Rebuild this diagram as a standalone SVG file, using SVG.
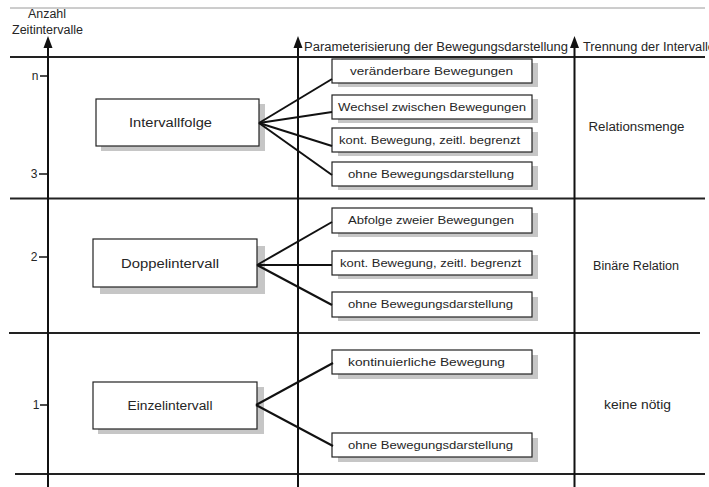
<svg xmlns="http://www.w3.org/2000/svg" width="709" height="487" viewBox="0 0 709 487">
<style>
text{font-family:"Liberation Sans",Arial,sans-serif;fill:#262626;}
.t{font-size:12px;text-anchor:middle;}
.s{font-size:11.5px;text-anchor:middle;}
.h{font-size:12px;}
.ax{stroke:#111;stroke-width:2;fill:none;}
.hl{stroke:#222;stroke-width:2;fill:none;}
.box{fill:#fff;stroke:#222;stroke-width:1.2;}
.shadow{fill:#c6c6c6;}
.con{stroke:#111;stroke-width:2;fill:none;}
.tick{stroke:#111;stroke-width:1.5;}
</style>
<rect width="709" height="487" fill="#fff"/>
<g id="grid">
<line x1="10" y1="8" x2="705" y2="8" stroke="#9a9a9a" stroke-width="1"/>
<line class="hl" x1="10" y1="57" x2="705" y2="57" stroke-width="1.6"/>
<line class="hl" x1="10" y1="198.5" x2="705" y2="198.5"/>
<line class="hl" x1="9" y1="333" x2="700" y2="333"/>
<line class="hl" x1="15" y1="474" x2="705" y2="474"/>
<line class="ax" x1="48" y1="487" x2="48" y2="48"/>
<path d="M48,36 L52.5,48 L43.5,48 z" fill="#111"/>
<line class="ax" x1="298" y1="487" x2="298" y2="48"/>
<path d="M298,36 L302.5,48 L293.5,48 z" fill="#111"/>
<line class="ax" x1="574.5" y1="487" x2="574.5" y2="48"/>
<path d="M574.5,36 L579,48 L570,48 z" fill="#111"/>
<line class="tick" x1="40" y1="76" x2="48" y2="76"/>
<line class="tick" x1="39" y1="174" x2="48" y2="174"/>
<line class="tick" x1="39" y1="257" x2="48" y2="257"/>
<line class="tick" x1="40" y1="405" x2="48" y2="405"/>
</g>
<g id="labels">
<text class="t" x="47" y="18" textLength="38" lengthAdjust="spacingAndGlyphs">Anzahl</text>
<text class="t" x="47.5" y="34" textLength="71" lengthAdjust="spacingAndGlyphs">Zeitintervalle</text>
<text class="h" x="304" y="51" textLength="264" lengthAdjust="spacingAndGlyphs">Parameterisierung der Bewegungsdarstellung</text>
<text class="h" x="583" y="51" textLength="132" lengthAdjust="spacingAndGlyphs">Trennung der Intervalle</text>
<text class="t" x="35" y="80">n</text>
<text class="t" x="34" y="178">3</text>
<text class="t" x="34" y="261">2</text>
<text class="t" x="36" y="409" font-size="10">1</text>
<text class="t" x="636.5" y="131" textLength="96" lengthAdjust="spacingAndGlyphs">Relationsmenge</text>
<text class="t" x="636" y="270" textLength="86" lengthAdjust="spacingAndGlyphs">Binäre Relation</text>
<text class="t" x="637.5" y="409" textLength="67" lengthAdjust="spacingAndGlyphs">keine nötig</text>
</g>
<g id="intervallfolge">
<rect class="shadow" x="101" y="104" width="164" height="47"/>
<rect class="box" x="96" y="99" width="163" height="47"/>
<text class="t" x="170.5" y="127" textLength="83" lengthAdjust="spacingAndGlyphs">Intervallfolge</text>
</g>
<g id="doppelintervall">
<rect class="shadow" x="100" y="246" width="165" height="48"/>
<rect class="box" x="93" y="239" width="164" height="48" stroke="#a8a8a8"/>
<text class="t" x="170" y="268" textLength="98" lengthAdjust="spacingAndGlyphs">Doppelintervall</text>
</g>
<g id="einzelintervall">
<rect class="shadow" x="98" y="387" width="166" height="47"/>
<rect class="box" x="93" y="382" width="164" height="47"/>
<text class="t" x="170" y="410" textLength="85" lengthAdjust="spacingAndGlyphs">Einzelintervall</text>
</g>
<g id="p1">
<rect class="shadow" x="338" y="63" width="200" height="24"/>
<rect class="box" x="332" y="59" width="200" height="24"/>
<text class="s" x="431.5" y="75" textLength="163" lengthAdjust="spacingAndGlyphs">veränderbare Bewegungen</text>
</g>
<g id="p2">
<rect class="shadow" x="338" y="99" width="200" height="24"/>
<rect class="box" x="332" y="95" width="200" height="24"/>
<text class="s" x="432" y="111" textLength="188" lengthAdjust="spacingAndGlyphs">Wechsel zwischen Bewegungen</text>
</g>
<g id="p3">
<rect class="shadow" x="338" y="132" width="200" height="24"/>
<rect class="box" x="332" y="128" width="200" height="24"/>
<text class="s" x="429.5" y="144" textLength="181" lengthAdjust="spacingAndGlyphs">kont. Bewegung, zeitl. begrenzt</text>
</g>
<g id="p4">
<rect class="shadow" x="338" y="166" width="200" height="24"/>
<rect class="box" x="332" y="162" width="200" height="24"/>
<text class="s" x="431" y="178" textLength="166" lengthAdjust="spacingAndGlyphs">ohne Bewegungsdarstellung</text>
</g>
<g id="d1">
<rect class="shadow" x="338" y="213" width="200" height="24"/>
<rect class="box" x="332" y="208" width="200" height="25"/>
<text class="s" x="431" y="224" textLength="166" lengthAdjust="spacingAndGlyphs">Abfolge zweier Bewegungen</text>
</g>
<g id="d2">
<rect class="shadow" x="338" y="255" width="200" height="24"/>
<rect class="box" x="332" y="251" width="200" height="24"/>
<text class="s" x="430.5" y="267" textLength="181" lengthAdjust="spacingAndGlyphs">kont. Bewegung, zeitl. begrenzt</text>
</g>
<g id="d3">
<rect class="shadow" x="338" y="297" width="200" height="24"/>
<rect class="box" x="332" y="292" width="200" height="25"/>
<text class="s" x="430.5" y="308" textLength="165" lengthAdjust="spacingAndGlyphs">ohne Bewegungsdarstellung</text>
</g>
<g id="e1">
<rect class="shadow" x="338" y="355" width="200" height="24"/>
<rect class="box" x="332" y="350" width="200" height="24"/>
<text class="s" x="426.5" y="366" textLength="157" lengthAdjust="spacingAndGlyphs">kontinuierliche Bewegung</text>
</g>
<g id="e2">
<rect class="shadow" x="338" y="438" width="200" height="24"/>
<rect class="box" x="332" y="433" width="200" height="24"/>
<text class="s" x="430.5" y="449" textLength="165" lengthAdjust="spacingAndGlyphs">ohne Bewegungsdarstellung</text>
</g>
<g id="connectors">
<line class="con" x1="259" y1="123" x2="332" y2="79"/>
<line class="con" x1="259" y1="123" x2="332" y2="112"/>
<line class="con" x1="259" y1="123" x2="332" y2="146"/>
<line class="con" x1="259" y1="123" x2="332" y2="175"/>
<line class="con" x1="257" y1="265" x2="332" y2="222"/>
<line class="con" x1="257" y1="265" x2="332" y2="265"/>
<line class="con" x1="257" y1="265" x2="332" y2="305"/>
<line class="con" x1="256" y1="405" x2="333" y2="363"/>
<line class="con" x1="256" y1="405" x2="333" y2="446"/>
</g>
</svg>
